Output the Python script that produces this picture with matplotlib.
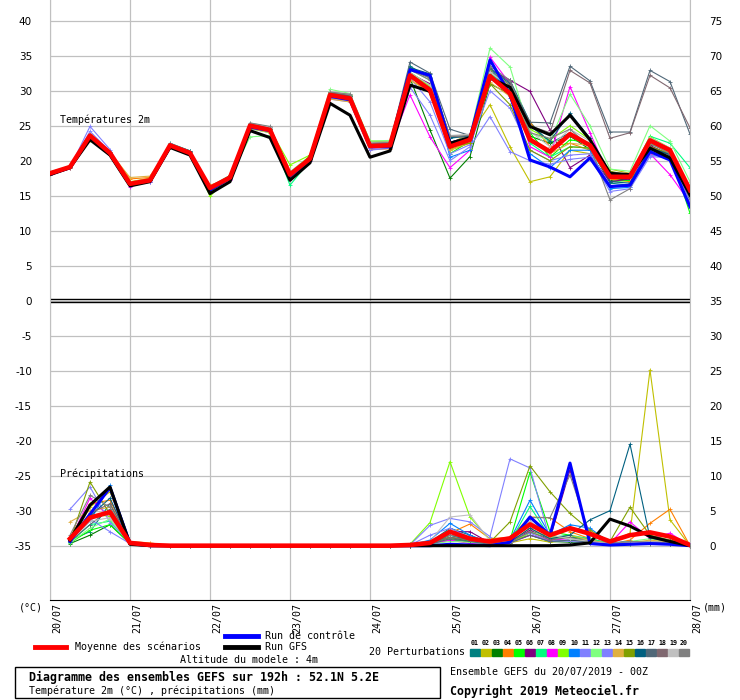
"""
GEFS ensemble diagram (Meteociel style) - 2m temperature and precipitation,
20 perturbations + control run + GFS run + ensemble mean.
"""
import numpy as np
import matplotlib
matplotlib.use("Agg")
import matplotlib.pyplot as plt
from matplotlib.lines import Line2D
from matplotlib.patches import Rectangle
from matplotlib.transforms import ScaledTranslation, blended_transform_factory

plt.rcParams["axes.unicode_minus"] = False
nan = np.nan

# ---------------------------------------------------------------- data
steps_h = list(range(0, 193, 6))          # forecast hours, every 6h
day_hours = [0, 24, 48, 72, 96, 120, 144, 168, 192]
day_labels = ["20/07", "21/07", "22/07", "23/07", "24/07",
              "25/07", "26/07", "27/07", "28/07"]

member_ids = ["01", "02", "03", "04", "05", "06", "07", "08", "09", "10",
              "11", "12", "13", "14", "15", "16", "17", "18", "19", "20"]
member_colors = ["#008080", "#c0c000", "#008000", "#ff8000", "#00ff00",
                 "#800080", "#00ff80", "#ff00ff", "#80ff00", "#0080ff",
                 "#8080ff", "#80ff80", "#8080ff", "#e0b040", "#80a000",
                 "#006080", "#506878", "#806870", "#c0c0c0", "#808080"]

# 2m temperature (degC)
t_mean = [18.2, 19.1, 23.6, 21.1, 16.7, 17.2, 22.2, 21.1, 16.1, 17.6, 25.0,
          24.4, 18.0, 20.3, 29.4, 28.9, 22.1, 22.2, 32.2, 30.1, 22.0, 23.0,
          32.1, 29.6, 23.0, 21.3, 23.8, 22.2, 17.7, 17.7, 22.9, 21.5, 15.8]
t_gfs = [18.0, 19.0, 23.0, 20.8, 16.4, 17.0, 21.9, 20.8, 15.3, 17.0, 24.3,
         23.3, 17.2, 19.7, 28.2, 26.5, 20.5, 21.4, 30.8, 29.9, 22.5, 23.3,
         31.8, 30.5, 24.9, 23.7, 26.5, 23.0, 18.2, 18.0, 21.8, 20.4, 15.1]
t_ctrl = [18.1, 19.0, 23.3, 20.9, 16.6, 17.1, 22.0, 21.0, 15.8, 17.5, 24.8,
          24.3, 17.8, 20.0, 29.2, 28.7, 22.0, 22.0, 33.0, 32.2, 22.5, 23.2,
          34.4, 29.5, 20.1, 19.1, 17.7, 20.4, 16.3, 16.5, 21.3, 20.1, 13.4]

t_members = [
    [18.3, 19.2, 23.8, 21.3, 16.8, 17.3, 22.4, 21.3, 16.2, 17.8, 25.3, 24.6, 18.2, 20.5, 29.6, 29.2, 22.5,
     22.6, 33.5, 31.8, 23.2, 23.6, 33.0, 31.5, 25.5, 22.5, 24.0, 22.0, 16.8, 16.5, 21.8, 20.8, 14.5],
    [18.0, 19.0, 23.4, 21.0, 17.0, 17.5, 22.0, 21.0, 16.0, 17.5, 25.0, 24.3, 18.2, 20.0, 29.2, 28.8, 22.3,
     22.4, 31.5, 30.0, 22.5, 23.8, 28.0, 22.0, 17.0, 17.7, 21.5, 21.0, 18.8, 18.2, 21.0, 20.8, 15.2],
    [18.1, 19.1, 23.2, 21.0, 16.6, 17.2, 22.2, 21.0, 16.2, 17.7, 25.0, 24.5, 17.8, 20.2, 29.4, 29.0, 22.2,
     22.3, 31.8, 24.4, 17.5, 20.6, 31.0, 29.5, 23.5, 22.5, 23.5, 21.6, 17.2, 17.4, 22.6, 21.3, 15.0],
    [18.2, 19.0, 23.5, 21.2, 17.4, 17.6, 22.0, 21.0, 16.4, 17.6, 24.8, 24.3, 18.0, 20.3, 29.0, 28.6, 21.6,
     21.7, 32.0, 30.5, 21.5, 22.5, 32.0, 30.0, 25.5, 22.0, 22.5, 21.5, 17.4, 17.0, 22.0, 21.0, 16.0],
    [18.4, 19.2, 23.5, 21.0, 16.8, 17.3, 22.5, 21.4, 15.5, 17.8, 25.2, 24.6, 17.6, 20.6, 29.8, 29.4, 22.6,
     22.7, 32.6, 30.8, 21.0, 22.8, 32.8, 30.5, 24.0, 20.5, 23.0, 22.5, 17.0, 17.2, 22.4, 21.2, 12.5],
    [18.1, 19.1, 23.6, 21.1, 16.8, 17.3, 22.1, 21.2, 16.0, 17.5, 25.2, 24.6, 18.1, 20.4, 29.5, 29.1, 22.2,
     22.3, 32.4, 31.0, 22.6, 23.5, 33.0, 31.5, 29.9, 24.4, 19.0, 20.8, 17.0, 17.4, 22.2, 20.8, 14.8],
    [18.3, 19.3, 23.4, 20.9, 16.5, 17.0, 22.3, 21.2, 16.3, 17.9, 24.6, 24.0, 16.5, 20.0, 29.6, 29.0, 22.4,
     22.5, 32.5, 30.4, 22.3, 23.0, 32.5, 30.2, 22.5, 20.5, 22.0, 21.8, 17.8, 17.8, 23.5, 22.5, 19.0],
    [17.9, 18.9, 23.3, 20.8, 16.3, 17.0, 22.0, 20.9, 16.0, 17.3, 24.9, 24.2, 17.7, 20.0, 29.2, 28.7, 21.8,
     22.0, 29.4, 23.4, 19.0, 21.5, 34.8, 31.0, 22.0, 20.5, 30.6, 24.0, 17.5, 17.6, 21.0, 18.0, 14.0],
    [18.2, 19.2, 23.0, 20.8, 16.7, 17.4, 22.4, 21.3, 14.9, 17.9, 25.1, 24.5, 19.4, 20.8, 29.8, 29.3, 22.8,
     22.8, 32.6, 30.6, 21.6, 22.6, 33.0, 30.8, 24.5, 23.0, 25.0, 23.0, 18.3, 18.0, 23.4, 21.8, 15.5],
    [18.2, 19.1, 23.7, 21.2, 16.6, 17.2, 22.3, 21.2, 16.1, 17.7, 25.1, 24.5, 17.9, 20.3, 29.4, 28.9, 22.0,
     22.1, 33.2, 32.0, 20.5, 21.5, 33.5, 29.0, 21.0, 19.0, 21.5, 21.5, 16.0, 16.2, 21.6, 20.6, 14.5],
    [18.1, 19.0, 24.9, 21.6, 16.6, 17.1, 22.5, 21.4, 15.7, 17.4, 24.8, 24.3, 17.9, 20.2, 29.0, 28.6, 21.8,
     22.0, 31.8, 28.4, 21.0, 22.3, 30.0, 27.5, 21.5, 20.0, 20.8, 21.0, 16.5, 16.3, 20.8, 20.5, 14.2],
    [18.3, 19.1, 23.8, 21.0, 16.9, 17.4, 22.0, 21.1, 15.8, 17.6, 23.4, 23.6, 18.4, 20.7, 30.2, 29.6, 22.8,
     22.9, 33.0, 31.5, 22.4, 23.7, 36.1, 33.4, 24.0, 22.8, 29.5, 25.0, 18.8, 18.5, 25.0, 22.8, 17.0],
    [18.0, 19.0, 24.2, 21.3, 16.5, 17.0, 22.3, 21.2, 15.9, 17.4, 24.7, 24.1, 17.6, 20.0, 28.8, 28.4, 21.5,
     21.8, 30.5, 26.5, 20.0, 22.0, 26.3, 21.3, 20.0, 19.5, 20.2, 20.5, 15.6, 16.0, 20.6, 20.4, 14.5],
    [18.1, 18.9, 23.3, 21.2, 17.6, 17.8, 22.0, 21.0, 16.5, 17.5, 24.6, 24.0, 18.2, 20.1, 28.8, 28.4, 22.0,
     22.2, 31.5, 29.8, 21.5, 22.6, 31.2, 29.2, 23.2, 21.0, 22.5, 22.2, 17.6, 17.5, 22.5, 21.2, 15.5],
    [18.3, 19.2, 23.5, 21.0, 16.8, 17.4, 22.4, 21.3, 15.6, 17.9, 25.2, 24.6, 17.5, 20.8, 29.8, 29.3, 22.6,
     22.7, 32.0, 30.4, 22.0, 22.5, 31.0, 28.0, 21.5, 20.0, 22.0, 21.8, 18.5, 17.9, 22.0, 21.0, 15.2],
    [18.2, 19.2, 23.6, 21.3, 16.7, 17.3, 22.4, 21.4, 16.2, 17.8, 25.3, 24.8, 18.2, 20.4, 29.6, 29.2, 22.4,
     22.5, 33.3, 32.4, 23.3, 23.5, 33.2, 31.0, 25.0, 22.8, 26.8, 23.2, 17.0, 16.8, 21.8, 20.9, 14.8],
    [18.3, 19.2, 23.7, 21.2, 16.8, 17.3, 22.4, 21.3, 16.2, 17.8, 25.2, 24.7, 18.3, 20.4, 29.7, 29.3, 22.5,
     22.6, 34.1, 32.5, 24.5, 23.6, 33.2, 31.2, 25.5, 25.4, 33.5, 31.4, 24.1, 24.1, 32.9, 31.3, 23.8],
    [18.2, 19.1, 23.7, 21.2, 16.8, 17.3, 22.3, 21.3, 16.1, 17.7, 25.3, 24.8, 18.2, 20.4, 29.8, 29.4, 22.3,
     22.4, 33.0, 31.8, 23.5, 23.3, 32.8, 30.8, 25.0, 24.0, 32.9, 31.1, 23.2, 24.0, 32.2, 30.4, 24.7],
    [18.3, 19.2, 23.8, 21.3, 16.9, 17.4, 22.4, 21.3, 16.2, 17.8, 25.4, 24.8, 18.3, 20.5, 29.9, 29.5, 22.6,
     22.7, 32.6, 30.8, 23.6, 23.8, 32.7, 30.5, 24.2, 22.0, 24.5, 22.8, 18.2, 18.2, 23.3, 21.8, 16.0],
    [18.3, 19.2, 23.7, 21.2, 16.8, 17.3, 22.4, 21.3, 16.2, 17.8, 25.4, 24.9, 18.3, 20.5, 29.8, 29.5, 22.5,
     22.6, 33.0, 31.5, 23.5, 23.6, 33.5, 31.5, 24.0, 23.2, 24.5, 22.0, 14.4, 16.0, 22.5, 21.0, 14.5],
]

# 6-hourly precipitation (mm), no value at the analysis time
p_mean = [nan, 1.0, 4.0, 4.8, 0.4, 0.1, 0, 0, 0, 0, 0, 0, 0, 0, 0, 0, 0, 0,
          0.1, 0.4, 2.0, 1.0, 0.6, 1.05, 3.05, 1.5, 2.5, 1.7, 0.6, 1.5, 1.9, 1.3, 0.1]
p_gfs = [nan, 0.8, 5.8, 8.4, 0.2, 0.0, 0, 0, 0, 0, 0, 0, 0, 0, 0, 0, 0, 0,
         0, 0, 0, 0, 0, 0, 0, 0, 0.1, 0.4, 3.8, 2.8, 1.3, 0.6, 0.0]
p_ctrl = [nan, 0.6, 4.5, 8.3, 0.3, 0.0, 0, 0, 0, 0, 0, 0, 0, 0, 0, 0, 0, 0,
          0, 0, 0.2, 0.1, 0, 0.5, 4.1, 1.5, 11.8, 0.3, 0.1, 0.2, 0.3, 0.2, 0.0]

p_members = [
    [nan, 0.8, 2.0, 6.0, 0.5, 0.1, 0, 0, 0, 0, 0, 0, 0, 0, 0, 0, 0, 0,
     0.2, 0.5, 2.5, 1.5, 0.3, 0.5, 2.0, 1.0, 1.2, 1.0, 0.3, 0.5, 0.4, 0.3, 0.0],
    [nan, 0.5, 5.5, 7.7, 0.4, 0.1, 0, 0, 0, 0, 0, 0, 0, 0, 0, 0, 0, 0,
     0.0, 0.2, 1.0, 0.5, 0.2, 0.4, 1.0, 0.5, 0.8, 0.6, 0.5, 1.8, 25.1, 3.7, 0.0],
    [nan, 0.3, 1.5, 3.0, 0.3, 0.0, 0, 0, 0, 0, 0, 0, 0, 0, 0, 0, 0, 0,
     0.0, 0.3, 1.2, 0.6, 0.2, 0.6, 1.5, 0.6, 0.5, 0.4, 0.2, 0.3, 0.5, 0.3, 0.0],
    [nan, 1.2, 6.0, 6.5, 0.6, 0.4, 0, 0, 0, 0, 0, 0, 0, 0, 0, 0, 0, 0,
     0.1, 0.3, 1.8, 3.1, 1.0, 1.2, 4.1, 4.0, 2.0, 1.0, 0.2, 0.8, 3.2, 5.2, 0.0],
    [nan, 0.4, 2.2, 3.0, 0.3, 0.0, 0, 0, 0, 0, 0, 0, 0, 0, 0, 0, 0, 0,
     0.0, 0.2, 0.8, 0.6, 0.3, 0.8, 10.5, 2.0, 1.5, 0.5, 0.2, 0.3, 0.4, 0.5, 0.0],
    [nan, 0.6, 4.0, 5.0, 0.4, 0.1, 0, 0, 0, 0, 0, 0, 0, 0, 0, 0, 0, 0,
     0.0, 0.3, 2.0, 2.0, 0.4, 0.6, 2.2, 1.0, 10.8, 0.8, 0.3, 0.4, 0.5, 0.8, 0.1],
    [nan, 0.5, 3.0, 3.5, 0.3, 0.0, 0, 0, 0, 0, 0, 0, 0, 0, 0, 0, 0, 0,
     0.1, 0.4, 1.5, 0.8, 0.3, 0.5, 5.6, 1.2, 1.5, 1.0, 0.3, 0.5, 0.6, 0.4, 0.0],
    [nan, 0.7, 6.8, 4.0, 0.4, 0.0, 0, 0, 0, 0, 0, 0, 0, 0, 0, 0, 0, 0,
     0.0, 0.2, 0.8, 0.3, 0.2, 0.4, 1.5, 0.8, 1.0, 0.6, 0.3, 3.4, 1.0, 1.8, 0.0],
    [nan, 0.6, 4.5, 4.2, 0.4, 0.1, 0, 0, 0, 0, 0, 0, 0, 0, 0, 0, 0, 0,
     0.2, 3.3, 12.0, 4.1, 0.8, 0.4, 1.8, 1.5, 1.0, 0.5, 0.2, 0.6, 0.4, 0.3, 0.0],
    [nan, 0.9, 3.5, 8.6, 0.6, 0.1, 0, 0, 0, 0, 0, 0, 0, 0, 0, 0, 0, 0,
     0.1, 0.8, 3.2, 1.5, 0.4, 0.8, 6.5, 1.5, 3.0, 2.5, 0.4, 0.6, 0.4, 0.3, 0.0],
    [nan, 5.2, 8.4, 3.3, 0.5, 0.1, 0, 0, 0, 0, 0, 0, 0, 0, 0, 0, 0, 0,
     0.1, 2.9, 3.9, 3.4, 1.3, 12.4, 11.1, 0.8, 0.6, 0.4, 0.2, 0.5, 0.6, 0.5, 0.0],
    [nan, 0.4, 2.5, 3.8, 0.3, 0.0, 0, 0, 0, 0, 0, 0, 0, 0, 0, 0, 0, 0,
     0.0, 0.2, 0.6, 0.5, 0.2, 0.5, 2.0, 1.2, 1.0, 0.8, 0.2, 0.6, 1.0, 0.4, 0.0],
    [nan, 0.8, 3.8, 2.0, 0.3, 0.0, 0, 0, 0, 0, 0, 0, 0, 0, 0, 0, 0, 0,
     0.1, 1.5, 2.5, 1.2, 0.5, 1.0, 1.8, 0.6, 0.8, 0.4, 0.2, 0.3, 0.5, 0.6, 0.0],
    [nan, 3.4, 5.0, 5.5, 0.5, 0.2, 0, 0, 0, 0, 0, 0, 0, 0, 0, 0, 0, 0,
     0.0, 0.4, 1.5, 1.0, 0.3, 0.5, 2.5, 1.0, 1.5, 0.8, 0.3, 0.4, 0.8, 0.5, 0.0],
    [nan, 0.7, 9.1, 4.5, 0.4, 0.1, 0, 0, 0, 0, 0, 0, 0, 0, 0, 0, 0, 0,
     0.0, 0.5, 1.2, 0.8, 0.5, 3.4, 11.4, 7.7, 4.6, 2.2, 0.6, 5.5, 1.5, 0.8, 0.0],
    [nan, 0.5, 4.2, 6.8, 0.5, 0.1, 0, 0, 0, 0, 0, 0, 0, 0, 0, 0, 0, 0,
     0.0, 0.3, 1.5, 0.8, 0.3, 0.5, 2.5, 1.0, 1.5, 3.7, 5.0, 14.5, 1.1, 0.6, 0.0],
    [nan, 0.6, 3.0, 5.2, 0.4, 0.0, 0, 0, 0, 0, 0, 0, 0, 0, 0, 0, 0, 0,
     0.0, 0.2, 1.0, 0.6, 0.2, 0.4, 1.5, 0.6, 0.8, 0.5, 0.3, 0.4, 0.3, 0.2, 0.0],
    [nan, 0.9, 4.6, 6.0, 0.5, 0.1, 0, 0, 0, 0, 0, 0, 0, 0, 0, 0, 0, 0,
     0.0, 0.3, 1.2, 0.8, 0.3, 0.5, 2.0, 0.8, 1.2, 0.6, 0.3, 0.5, 0.4, 0.3, 0.0],
    [nan, 0.6, 3.5, 4.0, 0.4, 0.1, 0, 0, 0, 0, 0, 0, 0, 0, 0, 0, 0, 0,
     0.2, 0.6, 4.1, 4.4, 0.7, 0.5, 3.5, 1.5, 1.0, 0.6, 0.3, 0.4, 0.6, 0.4, 0.0],
    [nan, 1.5, 7.2, 5.5, 0.5, 0.1, 0, 0, 0, 0, 0, 0, 0, 0, 0, 0, 0, 0,
     0.1, 0.5, 1.5, 1.0, 0.5, 0.8, 4.0, 4.0, 10.1, 1.5, 0.3, 0.6, 0.5, 0.4, 0.0],
]

# ---------------------------------------------------------------- figure
W, H = 740, 700
MONO = "DejaVu Sans Mono"
GRID = "#c0c0c0"
TXT = 7.2


def fx(px):
    return px / W


def fy(py):
    return 1 - py / H


fig = plt.figure(figsize=(W / 100, H / 100), dpi=100)
ax = fig.add_axes([fx(50), fy(600), 640 / W, 600 / H])
t_lo, t_hi = -42.76, 42.96
ax.set_xlim(0, 192)
ax.set_ylim(t_lo, t_hi)
# right axis: precipitation, 0 mm sits on -35 degC, same 5-unit spacing
ax2 = ax.twinx()
ax2.set_ylim(t_lo + 35, t_hi + 35)

for t in range(-35, 41, 5):
    ax.axhline(t, color=GRID, lw=0.9, zorder=0)
for d in day_hours:
    ax.axvline(d, color=GRID, lw=0.9, zorder=0)
ax.axhline(0.22, color="black", lw=1.0, zorder=1)
ax.axhline(-0.22, color="black", lw=1.0, zorder=1)

# temperature
for vals, c in zip(t_members, member_colors):
    ax.plot(steps_h, vals, color=c, lw=0.8, marker="+", ms=3, mew=0.6, zorder=2)
ax.plot(steps_h, t_ctrl, color="#0000ff", lw=2.2, zorder=3)
ax.plot(steps_h, t_gfs, color="black", lw=2.2, zorder=4)
ax.plot(steps_h, t_mean, color="#ff0000", lw=3.3, zorder=5)

# precipitation
for vals, c in zip(p_members, member_colors):
    ax2.plot(steps_h, vals, color=c, lw=0.8, marker="+", ms=3, mew=0.6, zorder=2)
ax2.plot(steps_h, p_ctrl, color="#0000ff", lw=2.2, zorder=3)
ax2.plot(steps_h, p_gfs, color="black", lw=2.2, zorder=4)
ax2.plot(steps_h, p_mean, color="#ff0000", lw=3.3, zorder=5)

# axes cosmetics
for s in ax2.spines.values():
    s.set_visible(False)
ax.spines["top"].set_visible(False)
ax.spines["left"].set_color(GRID)
ax.spines["right"].set_color(GRID)
ax.spines["bottom"].set_color("black")

ax.set_yticks(range(-35, 41, 5))
ax.tick_params(axis="y", length=0, pad=13, labelsize=7.5)
ax2.set_yticks(range(0, 76, 5))
ax2.tick_params(axis="y", length=0, pad=14, labelsize=7.5)

# date labels, rotated, just right of each day line
ax.set_xticks(day_hours)
ax.tick_params(axis="x", length=0, labelbottom=False)
date_tr = blended_transform_factory(ax.transData, ax.transAxes) + \
    ScaledTranslation(2 / 100, -3 / 100, fig.dpi_scale_trans)
for d, lab in zip(day_hours, day_labels):
    ax.text(d, 0, lab, transform=date_tr, rotation=90, family=MONO,
            fontsize=TXT, ha="left", va="top", clip_on=False)

ax.text(10 / 640, 0.80, "Températures 2m", transform=ax.transAxes,
        family=MONO, fontsize=TXT, va="center", ha="left", zorder=6)
ax.text(10 / 640, 0.21, "Précipitations", transform=ax.transAxes,
        family=MONO, fontsize=TXT, va="center", ha="left", zorder=6)

# ---------------------------------------------------------------- legend / footer
fig.text(fx(31), fy(607), "(°C)", family=MONO, fontsize=TXT, ha="center", va="center")
fig.text(fx(703), fy(607), "(mm)", family=MONO, fontsize=TXT, ha="left", va="center")

fig.add_artist(Line2D([fx(35), fx(66)], [fy(647), fy(647)], color="#ff0000", lw=3.5))
fig.text(fx(75), fy(647), "Moyenne des scénarios", family=MONO, fontsize=TXT, va="center")
fig.add_artist(Line2D([fx(225), fx(258)], [fy(636), fy(636)], color="#0000ff", lw=3.5))
fig.text(fx(265), fy(636), "Run de contrôle", family=MONO, fontsize=TXT, va="center")
fig.add_artist(Line2D([fx(225), fx(258)], [fy(647), fy(647)], color="black", lw=3.5))
fig.text(fx(265), fy(647.5), "Run GFS", family=MONO, fontsize=TXT, va="center")
fig.text(fx(249), fy(660), "Altitude du modele : 4m", family=MONO, fontsize=TXT,
         ha="center", va="center")
fig.text(fx(369), fy(652), "20 Perturbations", family=MONO, fontsize=TXT, va="center")

for i, (mid, c) in enumerate(zip(member_ids, member_colors)):
    x0 = 470 + i * 11
    fig.add_artist(Rectangle((fx(x0), fy(656)), 10 / W, 7 / H, color=c,
                             transform=fig.transFigure))
    fig.text(fx(x0 + 5), fy(643), mid, family=MONO, fontsize=4.8,
             ha="center", va="center", weight="bold")

fig.add_artist(Rectangle((fx(15), fy(698)), 425 / W, 31 / H, fill=False,
                         ec="black", lw=1.0, transform=fig.transFigure))
fig.text(fx(29), fy(677), "Diagramme des ensembles GEFS sur 192h : 52.1N 5.2E",
         family=MONO, fontsize=8.4, weight="bold", va="center")
fig.text(fx(29), fy(691), "Température 2m (°C) , précipitations (mm)",
         family=MONO, fontsize=TXT, va="center")
fig.text(fx(450), fy(672), "Ensemble GEFS du 20/07/2019 - 00Z",
         family=MONO, fontsize=TXT, va="center")
fig.text(fx(450), fy(691), "Copyright 2019 Meteociel.fr",
         family=MONO, fontsize=8.4, weight="bold", va="center")

fig.savefig("out.png", dpi=100)
plt.close(fig)
